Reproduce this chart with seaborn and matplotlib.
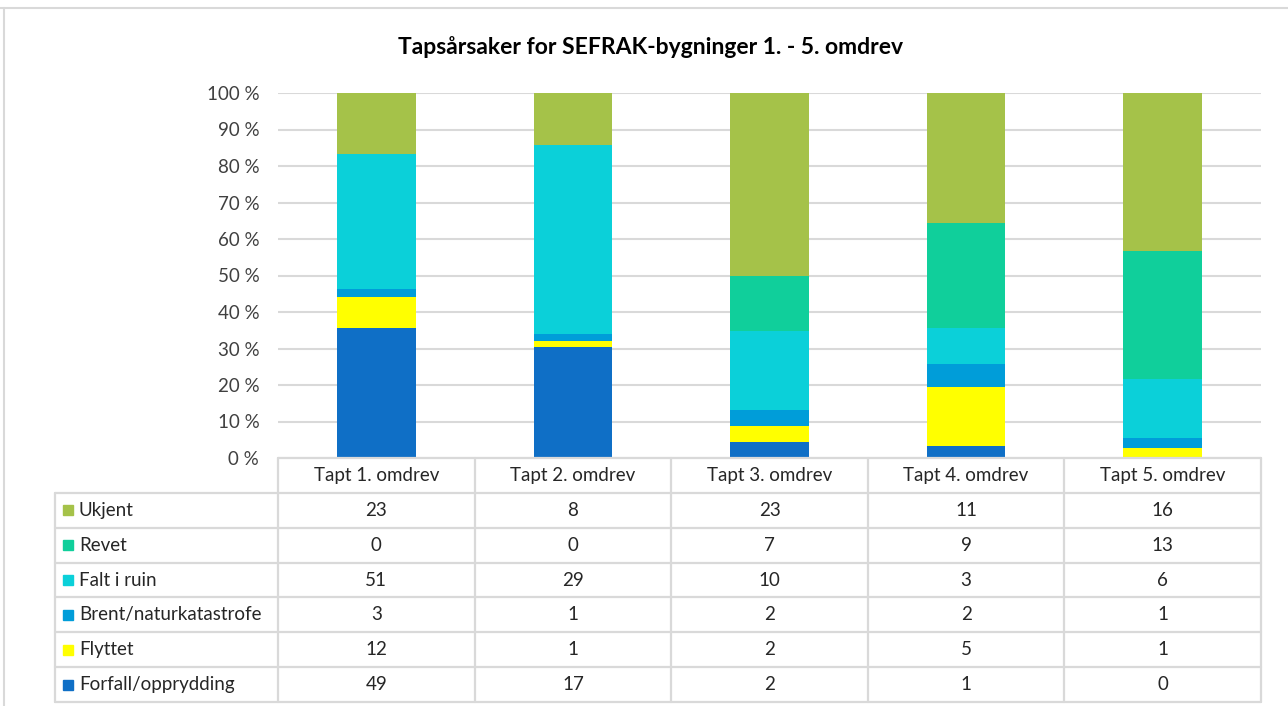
import matplotlib
matplotlib.use("Agg")
import matplotlib.pyplot as plt
import seaborn as sns
import pandas as pd
import numpy as np
from matplotlib.lines import Line2D

categories = ["Tapt 1. omdrev", "Tapt 2. omdrev", "Tapt 3. omdrev", "Tapt 4. omdrev", "Tapt 5. omdrev"]
series_names = ["Forfall/opprydding", "Flyttet", "Brent/naturkatastrofe", "Falt i ruin", "Revet", "Ukjent"]
forfall = [49, 17, 2, 1, 0]
flyttet = [12, 1, 2, 5, 1]
brent = [3, 1, 2, 2, 1]
falt = [51, 29, 10, 3, 6]
revet = [0, 0, 7, 9, 13]
ukjent = [23, 8, 23, 11, 16]
colors = ["#0F6FC6", "#FFFF00", "#009DD9", "#0BD0D9", "#10CF9B", "#A5C249"]
title = "Tapsårsaker for SEFRAK-bygninger 1. - 5. omdrev"

series_values = [forfall, flyttet, brent, falt, revet, ukjent]
vals = np.array(series_values, dtype=float)
totals = vals.sum(axis=0)
cum = np.cumsum(vals, axis=0) / totals * 100

rows = []
for i, name in enumerate(series_names):
    for j, c in enumerate(categories):
        rows.append({"serie": name, "kategori": c, "cum": cum[i, j], "verdi": vals[i, j]})
df = pd.DataFrame(rows)

sns.set_theme(style="white")
plt.rcParams["font.family"] = ["Lato", "DejaVu Sans"]

W, H = 1288, 706
fig = plt.figure(figsize=(W / 100, H / 100), dpi=100)

# chart-area border (top and left edges visible)
fig.add_artist(Line2D([0, 1], [1 - 8 / H, 1 - 8 / H], transform=fig.transFigure, color="#d9d9d9", lw=1.5))
fig.add_artist(Line2D([4 / W, 4 / W], [0, 1 - 8 / H], transform=fig.transFigure, color="#d9d9d9", lw=1.5))

left_px, right_px, top_px, bot_px = 278, 1261, 93, 458
ax = fig.add_axes([left_px / W, 1 - bot_px / H, (right_px - left_px) / W, (bot_px - top_px) / H])

# stacked bars via overlapping cumulative bars (top series drawn first)
for i in range(len(series_names) - 1, -1, -1):
    sub = df[df["serie"] == series_names[i]]
    sns.barplot(data=sub, x="kategori", y="cum", order=categories, color=colors[i],
                saturation=1, width=0.4, ax=ax, linewidth=0, zorder=2)

fs = 13.5
ax.set_xlim(-0.5, len(categories) - 0.5)
ax.set_ylim(0, 100)
ax.set_yticks(np.arange(0, 101, 10))
ax.set_yticklabels([f"{v} %" for v in range(0, 101, 10)], fontsize=fs, color="#404040")
ax.tick_params(axis="y", length=0, pad=13.5)
ax.set_xticks([])
ax.set_xlabel("")
ax.set_ylabel("")
for s in ax.spines.values():
    s.set_visible(False)
ax.yaxis.grid(True, color="#d9d9d9", lw=1.5, zorder=0)
ax.set_axisbelow(True)

fig.text(651 / W, 1 - 47 / H, title, ha="center", va="center", fontsize=16.5, fontweight="bold", color="#000000")

# data table
tleft = 55
cat_w = (right_px - left_px) / len(categories)
label_w = left_px - tleft
tab = fig.add_axes([tleft / W, 1 - 702 / H, (right_px - tleft) / W, (702 - bot_px) / H])
nrows = len(series_names) + 1
tab.set_xlim(0, right_px - tleft)
tab.set_ylim(nrows, 0)
tab.axis("off")
lc = "#d9d9d9"
lw = 1.6
tab.plot([label_w, right_px - tleft], [0, 0], color=lc, lw=lw, clip_on=False)
for r in range(1, nrows + 1):
    tab.plot([0, right_px - tleft], [r, r], color=lc, lw=lw, clip_on=False)
tab.plot([0, 0], [1, nrows], color=lc, lw=lw, clip_on=False)
for k in range(len(categories) + 1):
    xk = label_w + k * cat_w
    tab.plot([xk, xk], [0, nrows], color=lc, lw=lw, clip_on=False)

tc = "#262626"
for j, c in enumerate(categories):
    tab.text(label_w + (j + 0.5) * cat_w, 0.5, c, ha="center", va="center", fontsize=fs, color=tc)

for r, i in enumerate(range(len(series_names) - 1, -1, -1)):
    y = r + 1.5
    tab.plot([13], [y], marker="s", markersize=7.5, color=colors[i], clip_on=False, lw=0)
    tab.text(24, y, series_names[i], ha="left", va="center", fontsize=fs, color=tc)
    for j in range(len(categories)):
        tab.text(label_w + (j + 0.5) * cat_w, y, f"{int(vals[i, j])}", ha="center", va="center",
                 fontsize=fs, color=tc)

fig.savefig("out.png", dpi=100)
